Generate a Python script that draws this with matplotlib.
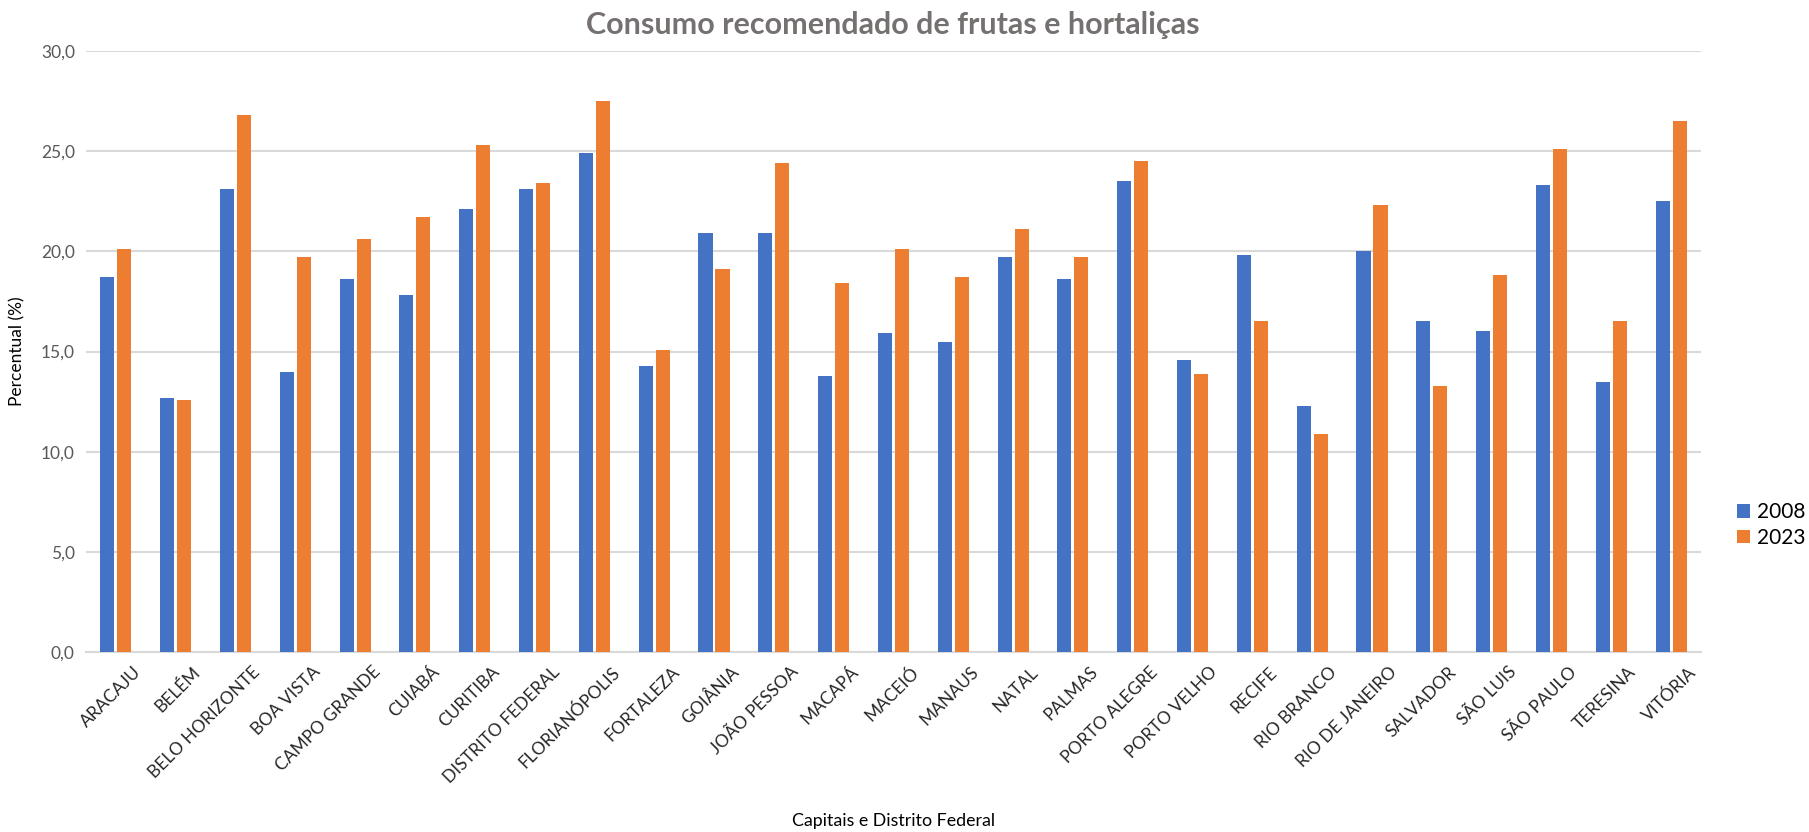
import numpy as np
import matplotlib
matplotlib.use("Agg")
import matplotlib.pyplot as plt
import matplotlib.transforms as mtransforms

plt.rcParams['font.family'] = ['Lato', 'DejaVu Sans']

capitais = ["ARACAJU", "BELÉM", "BELO HORIZONTE", "BOA VISTA", "CAMPO GRANDE",
            "CUIABÁ", "CURITIBA", "DISTRITO FEDERAL", "FLORIANÓPOLIS", "FORTALEZA",
            "GOIÂNIA", "JOÃO PESSOA", "MACAPÁ", "MACEIÓ", "MANAUS", "NATAL",
            "PALMAS", "PORTO ALEGRE", "PORTO VELHO", "RECIFE", "RIO BRANCO",
            "RIO DE JANEIRO", "SALVADOR", "SÃO LUIS", "SÃO PAULO", "TERESINA",
            "VITÓRIA"]
v2008 = [18.7, 12.7, 23.1, 14.0, 18.6, 17.8, 22.1, 23.1, 24.9, 14.3,
         20.9, 20.9, 13.8, 15.9, 15.5, 19.7, 18.6, 23.5, 14.6, 19.8,
         12.3, 20.0, 16.5, 16.0, 23.3, 13.5, 22.5]
v2023 = [20.1, 12.6, 26.8, 19.7, 20.6, 21.7, 25.3, 23.4, 27.5, 15.1,
         19.1, 24.4, 18.4, 20.1, 18.7, 21.1, 19.7, 24.5, 13.9, 16.5,
         10.9, 22.3, 13.3, 18.8, 25.1, 16.5, 26.5]

azul, laranja = "#4472C4", "#ED7D31"
azul_claro, laranja_claro = "#A9BDE3", "#F6BE98"

fig = plt.figure(figsize=(18.09, 8.32), dpi=100)
ax = fig.add_axes([0.0475, 0.2163, 0.8928, 0.7224])

x = np.arange(len(capitais))
w = 0.235
off = 0.142
ax.bar(x - off, v2008, w, color=azul, label="2008", zorder=3)
ax.bar(x + off, v2023, w, color=laranja, label="2023", zorder=3)
# faint reflection under each bar, as in the Excel export
ax.bar(x - off, -0.12, w, color=azul_claro, zorder=3)
ax.bar(x + off, -0.12, w, color=laranja_claro, zorder=3)

ax.set_xlim(-0.5, len(capitais) - 0.5)
ax.set_ylim(0, 30)
ax.set_yticks(np.arange(0, 31, 5))
ax.set_yticklabels([f"{t:.1f}".replace(".", ",") for t in np.arange(0, 31, 5)],
                   color="#595959", fontsize=12.5)
ax.yaxis.grid(True, color="#d9d9d9", linewidth=1.5, zorder=0)
ax.tick_params(axis="both", length=0)
ax.tick_params(axis="y", pad=8)
for s in ["top", "right", "left"]:
    ax.spines[s].set_visible(False)
ax.spines["bottom"].set_color("#d9d9d9")
ax.spines["bottom"].set_linewidth(1.5)
ax.spines["bottom"].set_zorder(2)

ax.set_xticks(x)
ax.set_xticklabels(capitais, rotation=45, ha="right", rotation_mode="anchor",
                   fontsize=12.5, color="#262626")
shift = mtransforms.ScaledTranslation(12 / 72, -5 / 72, fig.dpi_scale_trans)
for lbl in ax.get_xticklabels():
    lbl.set_transform(lbl.get_transform() + shift)

fig.text(17 / 1809, 0.5775, "Percentual (%)", rotation=90, ha="center", va="center",
         fontsize=12.5, color="#000000")
fig.text(0.4937, 1 - 821 / 832, "Capitais e Distrito Federal", ha="center", va="center",
         fontsize=12.8, color="#000000")
fig.text(0.4937, 1 - 25 / 832, "Consumo recomendado de frutas e hortaliças",
         ha="center", va="center", fontsize=22, fontweight="bold", color="#767171")

fig.legend(loc="center left", bbox_to_anchor=(1729 / 1809, 1 - 525 / 832), frameon=False,
           fontsize=15, handlelength=0.6, handleheight=0.6, handletextpad=0.35,
           labelspacing=0.25, borderaxespad=0)

fig.savefig("out.png", dpi=100, facecolor="white")
